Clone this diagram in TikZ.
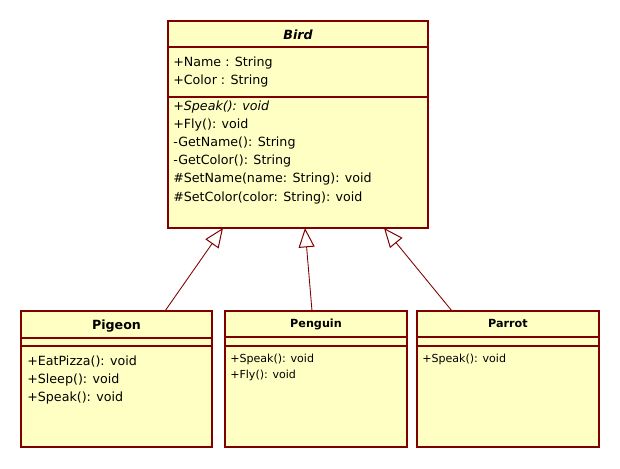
\documentclass[tikz,border=0pt]{standalone}
\usepackage{fontspec}
\setmainfont{DejaVu Sans}
\usetikzlibrary{arrows.meta,calc}
\definecolor{umlfill}{RGB}{255,255,196}
\definecolor{umlline}{RGB}{128,0,0}
\tikzset{
  cbox/.style={draw=umlline, fill=umlfill, line width=0.9pt, inner sep=0pt, outer sep=0pt, anchor=north west},
  cline/.style={draw=umlline, line width=0.9pt},
  big/.style={font=\fontsize{9.5}{13.7}\selectfont, inner sep=0pt, anchor=base west},
  small/.style={font=\fontsize{8.3}{12}\selectfont, inner sep=0pt, anchor=base west},
  bigtitle/.style={font=\fontsize{9.5}{13.7}\selectfont\bfseries, inner sep=0pt, anchor=base},
  smalltitle/.style={font=\fontsize{8.4}{12}\selectfont\bfseries, inner sep=0pt, anchor=base},
  gen/.style={draw=umlline, line width=0.65pt, -{Triangle[open, length=14.5pt, width=12pt, line width=0.75pt]}}
}
\begin{document}
\begin{tikzpicture}[x=0.75pt, y=-0.75pt]
\useasboundingbox[fill=white] (0,0) rectangle (620,468);

% Boxes
\node[cbox, minimum width=195pt, minimum height=155.25pt] (bird) at (168,21) {};
\node[cbox, minimum width=143.25pt, minimum height=102pt] (pigeon) at (21,311) {};
\node[cbox, minimum width=136.5pt, minimum height=102pt] (penguin) at (225,311) {};
\node[cbox, minimum width=136.5pt, minimum height=102pt] (parrot) at (417,311) {};

% Compartment lines
\draw[cline] ($(bird.north west)+(0,26)$) -- ($(bird.north east)+(0,26)$);
\draw[cline] ($(bird.north west)+(0,76)$) -- ($(bird.north east)+(0,76)$);
\draw[cline] ($(pigeon.north west)+(0,27)$) -- ($(pigeon.north east)+(0,27)$);
\draw[cline] ($(pigeon.north west)+(0,35)$) -- ($(pigeon.north east)+(0,35)$);
\draw[cline] ($(penguin.north west)+(0,26)$) -- ($(penguin.north east)+(0,26)$);
\draw[cline] ($(penguin.north west)+(0,35)$) -- ($(penguin.north east)+(0,35)$);
\draw[cline] ($(parrot.north west)+(0,26)$) -- ($(parrot.north east)+(0,26)$);
\draw[cline] ($(parrot.north west)+(0,35)$) -- ($(parrot.north east)+(0,35)$);

% Bird texts
\node[bigtitle, font=\fontsize{9.5}{13.7}\selectfont\bfseries\itshape] (birdname) at (298,39) {Bird};
\node[big] (ba1) at (173,66) {+Name : String};
\node[big] (ba2) at (173,84) {+Color : String};
\node[big, font=\fontsize{9.5}{13.7}\selectfont\itshape] (bm1) at (173,110) {+Speak(): void};
\node[big] (bm2) at (173,128.2) {+Fly(): void};
\node[big] (bm3) at (173,146.4) {-GetName(): String};
\node[big] (bm4) at (173,164.6) {-GetColor(): String};
\node[big] (bm5) at (173,182.8) {\#SetName(name: String): void};
\node[big] (bm6) at (173,201) {\#SetColor(color: String): void};

% Pigeon texts
\node[bigtitle] (pgname) at (116.5,329) {Pigeon};
\node[big] (pg1) at (27,365) {+EatPizza(): void};
\node[big] (pg2) at (27,383) {+Sleep(): void};
\node[big] (pg3) at (27,401) {+Speak(): void};

% Penguin texts
\node[smalltitle] (pnname) at (316,327) {Penguin};
\node[small] (pn1) at (230,362) {+Speak(): void};
\node[small] (pn2) at (230,378) {+Fly(): void};

% Parrot texts
\node[smalltitle] (prname) at (508,327) {Parrot};
\node[small] (pr1) at (422,362) {+Speak(): void};

% Connectors
\coordinate (pgtop) at (165,311);
\coordinate (pgtip) at (223,228);
\coordinate (pntop) at (312,311);
\coordinate (pntip) at (305,228);
\coordinate (prtop) at (452,311);
\coordinate (prtip) at (384,228);
\draw[gen] (pgtop) -- (pgtip);
\draw[gen] (pntop) -- (pntip);
\draw[gen] (prtop) -- (prtip);
\end{tikzpicture}
\end{document}
